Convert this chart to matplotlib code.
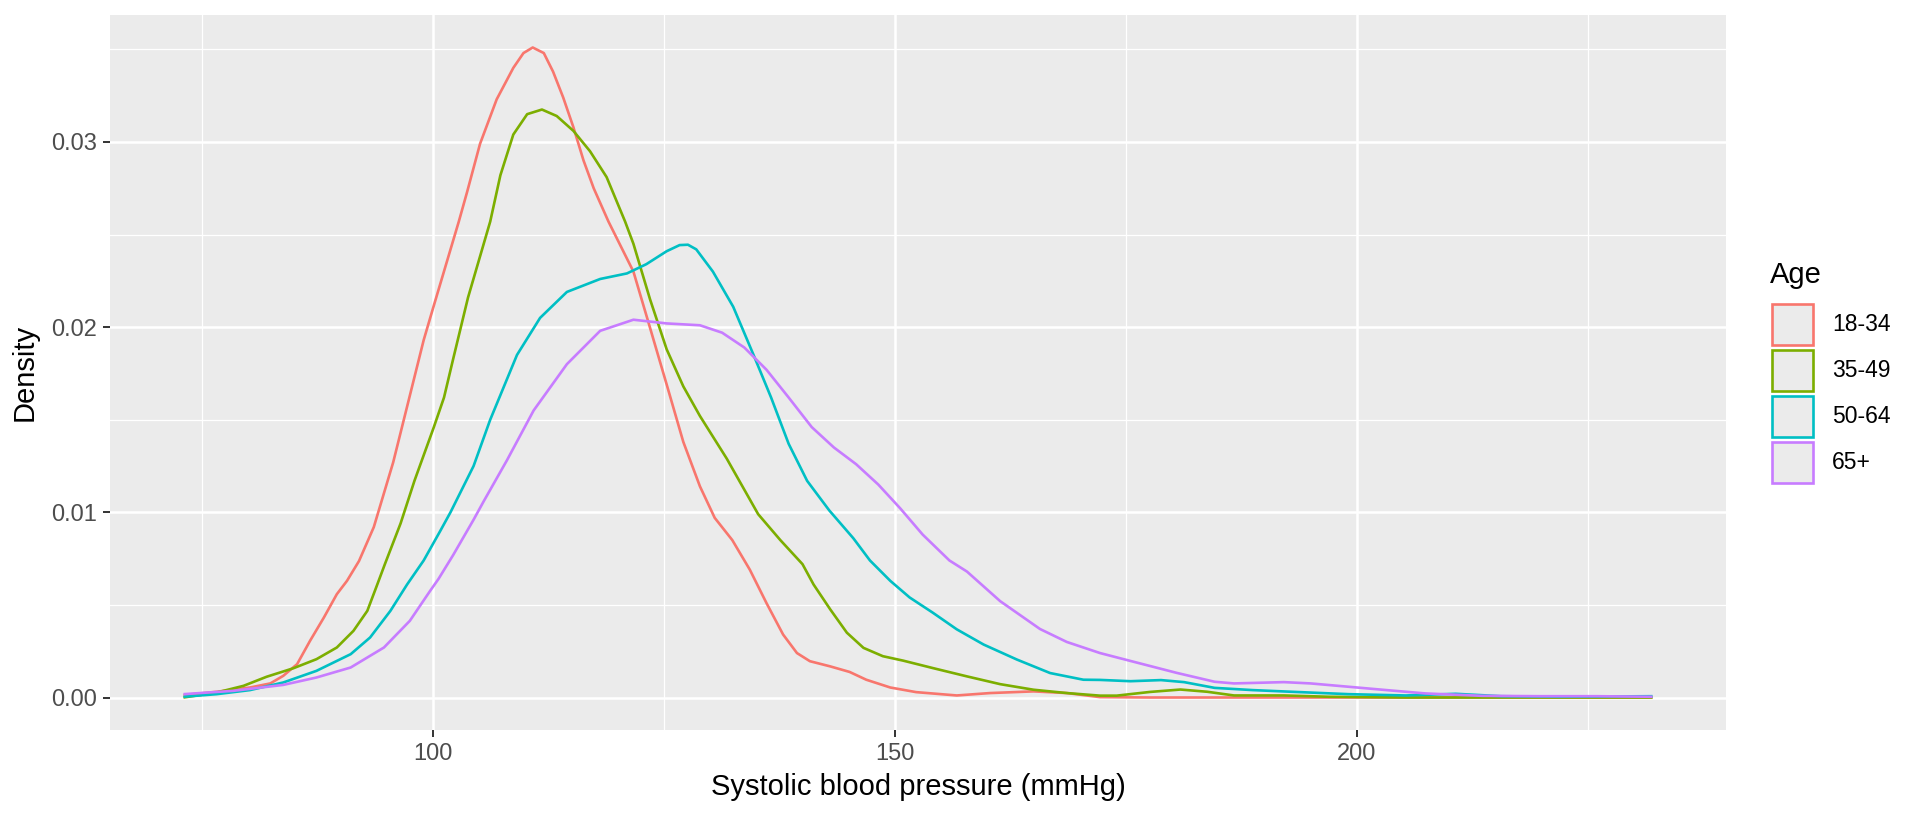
import matplotlib
matplotlib.use("Agg")
import matplotlib.pyplot as plt
from matplotlib.patches import Rectangle

plt.rcParams['font.family'] = ['Liberation Sans', 'DejaVu Sans']

# ---------------- data ----------------
groups = ["18-34", "35-49", "50-64", "65+"]
colors = ["#F8766D", "#7CAE00", "#00BFC4", "#C77CFF"]

x_1834 = [73.0, 76.6, 80.2, 82.4, 83.8, 85.3, 86.7, 88.2, 89.6, 90.7, 92.0, 93.6,
          95.7, 96.5, 97.2, 99.0, 100.0, 102.8, 103.7, 105.1, 106.9, 108.7, 109.8,
          110.8, 112.0, 113.0, 114.1, 115.2, 116.3, 117.4, 119.0, 121.7,
          123.3, 125.3, 127.1, 128.9, 130.5, 132.4, 134.3, 136.1, 137.9, 139.4,
          140.8, 143.0, 145.1, 146.9, 149.5, 152.3, 156.7, 160.3, 165.0, 168.6,
          172.2, 177.6, 185.0, 200.0, 215.0, 232.0]
y_1834 = [0.00013, 0.00031, 0.00054, 0.00076, 0.00117, 0.0018, 0.00306, 0.00432,
          0.00558, 0.0063, 0.00737, 0.0092, 0.0127, 0.0143, 0.0157, 0.0193, 0.0210,
          0.0257, 0.0273, 0.0299, 0.0323, 0.0340, 0.0348, 0.0351, 0.0348, 0.0338,
          0.0324, 0.0308, 0.0290, 0.0275, 0.0257, 0.0230, 0.0203, 0.0169,
          0.0138, 0.0114, 0.0097, 0.0085, 0.0069, 0.0051, 0.0034, 0.0024, 0.00196,
          0.00168, 0.00138, 0.00096, 0.00054, 0.00029, 0.00011, 0.00024, 0.00033,
          0.00024, 0.00002, 0.0, 0.0, 0.0, 0.0, 0.0]

x_3549 = [73.0, 76.6, 79.5, 82.0, 84.9, 87.4, 89.6, 91.4, 92.9, 93.9, 94.8, 96.5,
          98.0, 100.1, 101.2, 102.2, 103.8, 106.2, 107.3, 108.7, 110.2, 111.8, 113.4,
          115.2, 117.0, 118.8, 120.8, 121.7, 123.5, 125.3, 127.1, 128.9, 131.8,
          135.2, 137.6, 140.0, 141.2, 143.0, 144.8, 146.6, 148.7, 150.9, 154.1,
          157.8, 161.4, 165.0, 168.6, 172.2, 174.0, 177.6, 180.9, 183.8, 186.7,
          192.1, 197.0, 205.3, 232.0]
y_3549 = [0.0, 0.00027, 0.00063, 0.00112, 0.00158, 0.00207, 0.0027, 0.0036, 0.00468,
          0.0060, 0.0072, 0.0094, 0.0117, 0.0146, 0.0162, 0.0183, 0.0216, 0.0257,
          0.0282, 0.0304, 0.0315, 0.03175, 0.0314, 0.0306, 0.0295, 0.0281, 0.0257,
          0.0245, 0.0215, 0.0188, 0.0168, 0.0152, 0.0129, 0.0099, 0.0085, 0.0072,
          0.0061, 0.00476, 0.0035, 0.00268, 0.00223, 0.00199, 0.00159, 0.00114,
          0.00072, 0.00042, 0.00024, 0.00010, 0.00010, 0.00030, 0.00043, 0.00031,
          0.00011, 0.00011, 0.00004, 0.0, 0.0]

x_5064 = [73.0, 76.6, 80.2, 83.8, 87.4, 91.1, 93.2, 95.4, 97.2, 99.0, 100.8, 101.9,
          104.4, 106.2, 109.1, 111.6, 114.5, 118.1, 121.0, 123.1, 125.3, 126.7,
          127.6, 128.5, 130.3, 132.5, 134.7, 136.6, 138.5, 140.5, 142.9, 145.5, 147.3,
          149.5, 151.6, 154.1, 156.7, 159.6, 163.2, 166.8, 170.4, 172.2, 175.5,
          178.8, 181.3, 184.6, 188.7, 192.9, 199.1, 205.3, 210.7, 215.6, 221.9, 232.0]
y_5064 = [0.00004, 0.00018, 0.0004, 0.00081, 0.00144, 0.00234, 0.00324, 0.00468,
          0.0061, 0.0074, 0.0090, 0.0100, 0.0125, 0.0150, 0.0185, 0.0205, 0.0219,
          0.0226, 0.0229, 0.0234, 0.0241, 0.02443, 0.02445, 0.0242, 0.0230, 0.0211,
          0.0185, 0.0162, 0.0137, 0.0117, 0.0101, 0.0086, 0.0074, 0.0063, 0.0054,
          0.00458, 0.00368, 0.00286, 0.00205, 0.00132, 0.00096, 0.00095, 0.00088,
          0.00094, 0.00083, 0.00052, 0.0004, 0.00031, 0.00018, 0.00011, 0.0002,
          0.00007, 0.00004, 0.00007]

x_65p = [73.0, 78.4, 83.8, 87.4, 91.1, 94.7, 97.5, 99.7, 100.6, 102.2, 104.4, 105.5,
         108.0, 110.9, 114.5, 118.1, 121.7, 125.3, 128.9, 131.3, 133.7, 136.1, 138.5,
         141.0, 143.4, 145.8, 148.2, 150.6, 153.0, 155.9, 157.8, 161.4, 165.7, 168.6,
         172.2, 176.3, 180.5, 184.6, 186.7, 192.1, 195.0, 199.1, 203.2, 207.4, 213.6,
         219.8, 226.0, 232.0]
y_65p = [0.00018, 0.00036, 0.00068, 0.00108, 0.00162, 0.0027, 0.00414, 0.00576,
         0.0064, 0.0077, 0.0096, 0.0106, 0.0128, 0.0155, 0.0180, 0.0198, 0.0204,
         0.0202, 0.0201, 0.0197, 0.0189, 0.0177, 0.0162, 0.0146, 0.0135, 0.0126,
         0.0115, 0.0102, 0.0088, 0.0074, 0.0068, 0.0052, 0.0037, 0.0030, 0.0024,
         0.00187, 0.00133, 0.00085, 0.00076, 0.00083, 0.00076, 0.00058, 0.0004,
         0.00022, 0.00009, 0.00007, 0.00007, 0.00004]

series_x = [x_1834, x_3549, x_5064, x_65p]
series_y = [y_1834, y_3549, y_5064, y_65p]

x_major = [100, 150, 200]
x_minor = [75, 125, 175, 225]
y_major = [0.00, 0.01, 0.02, 0.03]
y_minor = [0.005, 0.015, 0.025, 0.035]
y_labels = ["0.00", "0.01", "0.02", "0.03"]
x_labels = ["100", "150", "200"]

# ---------------- figure ----------------
W, H = 1920, 816
fig = plt.figure(figsize=(W / 100, H / 100), dpi=100)
fig.patch.set_facecolor("white")

L, R, T, B = 110, 1726, 15, 730
ax = fig.add_axes([L / W, 1 - B / H, (R - L) / W, (B - T) / H])
ax.set_facecolor("#EBEBEB")
for s in ax.spines.values():
    s.set_visible(False)

ax.set_xticks(x_major)
ax.set_xticklabels(x_labels)
ax.set_xticks(x_minor, minor=True)
ax.set_yticks(y_major)
ax.set_yticklabels(y_labels)
ax.set_yticks(y_minor, minor=True)
ax.set_axisbelow(True)
ax.grid(which="major", color="white", linewidth=1.8)
ax.grid(which="minor", color="white", linewidth=0.9)
ax.tick_params(which="minor", length=0)
ax.tick_params(which="major", length=5, width=1.4, color="#333333",
               labelcolor="#4D4D4D", labelsize=17)
ax.tick_params(axis="x", pad=4)
ax.tick_params(axis="y", pad=4)

for xs, ys, c in zip(series_x, series_y, colors):
    ax.plot(xs, ys, color=c, linewidth=1.9, solid_joinstyle="round",
            solid_capstyle="butt")

xmin, xmax = 73.0, 232.0
ymax = max(max(v) for v in series_y)
ax.set_xlim(xmin - 0.05 * (xmax - xmin), xmax + 0.05 * (xmax - xmin))
ax.set_ylim(-0.05 * ymax, ymax * 1.05)

fig.text(918 / W, 1 - 795 / H, "Systolic blood pressure (mmHg)", ha="center",
         va="baseline", fontsize=21, color="black")
fig.text(25 / W, 1 - 372 / H, "Density", ha="center", va="center",
         rotation=90, fontsize=21, color="black")

# ---------------- legend ----------------
fig.text(1770 / W, 1 - 283 / H, "Age", ha="left", va="baseline", fontsize=21,
         color="black")
key_x, key_y0, key_size, key_pitch = 1772, 304.5, 41, 45.8
for i, (g, c) in enumerate(zip(groups, colors)):
    top = key_y0 + i * key_pitch
    fig.add_artist(Rectangle((key_x / W, 1 - (top + key_size) / H),
                             key_size / W, key_size / H,
                             transform=fig.transFigure, facecolor="#EBEBEB",
                             edgecolor=c, linewidth=1.9))
    fig.text(1832 / W, 1 - (top + key_size / 2) / H, g, ha="left", va="center",
             fontsize=16.5, color="black")

fig.savefig("out.png", dpi=100, facecolor="white")
